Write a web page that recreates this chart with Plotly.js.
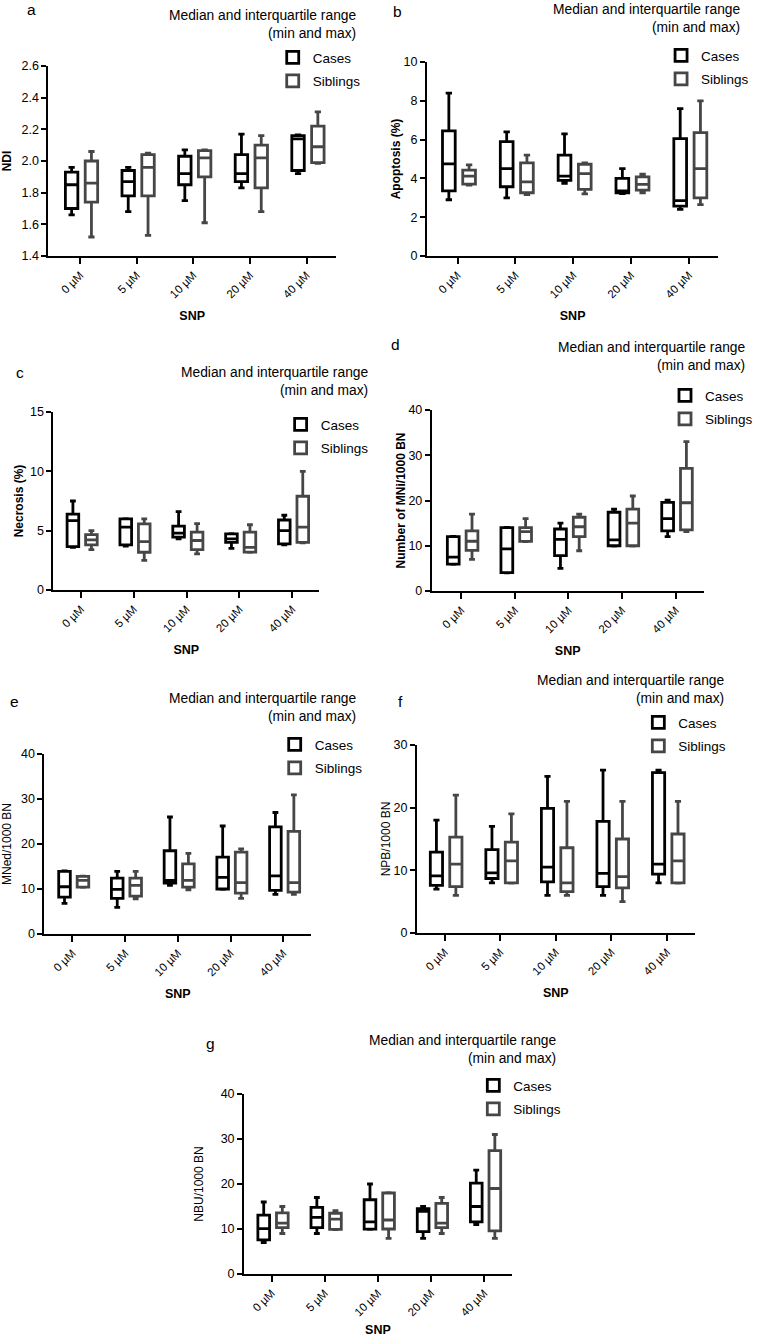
<!DOCTYPE html>
<html>
<head>
<meta charset="utf-8">
<script src="https://cdn.plot.ly/plotly-3.0.1.min.js"></script>
<style>html,body{margin:0;padding:0;background:#fff;}#chart{width:758px;height:1337px;}</style>
</head>
<body>
<div id="chart"></div>
<script>
// Categories
const doses = ['0 µM', '5 µM', '10 µM', '20 µM', '40 µM'];
const groupNames = ['Cases', 'Siblings'];

// Each series: per dose [min, Q1, median, Q3, max]
// a: NDI
const ndiCases    = [[1.66,1.70,1.85,1.93,1.96],[1.68,1.78,1.87,1.94,1.96],[1.75,1.85,1.92,2.03,2.07],[1.83,1.87,1.92,2.04,2.17],[1.92,1.94,2.14,2.16,2.165]];
const ndiSiblings = [[1.52,1.74,1.86,2.00,2.06],[1.53,1.78,1.96,2.04,2.05],[1.61,1.90,2.02,2.065,2.07],[1.68,1.83,2.02,2.10,2.16],[1.985,1.99,2.09,2.22,2.31]];
// b: Apoptosis (%)
const apoCases    = [[2.9,3.36,4.75,6.45,8.4],[3.0,3.57,4.5,5.9,6.4],[3.75,3.9,4.12,5.2,6.3],[3.22,3.25,3.35,4.0,4.5],[2.4,2.57,2.85,6.05,7.6]];
const apoSiblings = [[3.65,3.7,4.12,4.43,4.7],[3.17,3.26,3.82,4.8,5.2],[3.2,3.43,4.25,4.73,4.8],[3.26,3.4,3.69,4.08,4.22],[2.65,3.0,4.5,6.36,8.0]];
// c: Necrosis (%)
const necCases    = [[3.6,3.66,5.85,6.4,7.5],[3.69,3.8,5.3,6.0,6.02],[4.31,4.45,4.8,5.38,6.6],[3.5,4.02,4.31,4.73,4.75],[3.8,3.88,5.0,5.9,6.3]];
const necSiblings = [[3.4,3.8,4.22,4.67,5.0],[2.5,3.18,4.08,5.57,6.0],[3.05,3.41,4.17,4.87,5.6],[3.18,3.2,3.6,4.87,5.5],[3.97,4.02,5.3,7.9,10.0]];
// d: Number of MNi/1000 BN
const mniCases    = [[5.9,5.95,7.5,12.0,12.05],[4.0,4.05,9.3,14.0,14.05],[5.0,7.8,11.4,13.7,15.0],[9.9,10.0,11.3,17.4,18.1],[12.0,13.3,16.0,19.6,20.1]];
const mniSiblings = [[7.0,9.0,11.0,13.3,17.0],[10.9,10.95,13.1,14.0,16.0],[8.9,12.0,14.2,16.3,17.0],[9.9,10.0,15.0,18.1,21.0],[13.1,13.5,19.5,27.1,33.0]];
// e: MNed/1000 BN
const mnedCases    = [[6.8,8.2,10.5,13.9,14.0],[5.9,7.9,9.9,12.4,13.9],[10.8,11.3,11.9,18.5,26.0],[9.9,10.0,12.6,17.1,24.0],[8.8,9.7,12.9,23.8,27.0]];
const mnedSiblings = [[10.35,10.4,11.9,12.8,12.85],[7.8,8.4,10.8,12.4,13.9],[9.8,10.4,11.9,15.6,17.9],[7.9,9.1,11.4,18.2,18.9],[8.8,9.3,11.4,22.8,30.9]];
// f: NPB/1000 BN
const npbCases    = [[7.0,7.6,9.1,12.9,18.0],[8.0,8.7,9.6,13.3,17.0],[6.0,8.15,10.5,19.9,25.0],[6.0,7.4,9.5,17.8,26.0],[8.0,9.4,11.0,25.6,26.0]];
const npbSiblings = [[6.0,7.4,11.0,15.3,22.0],[7.95,8.0,11.5,14.5,19.0],[6.0,6.6,8.0,13.6,21.0],[5.0,7.2,9.0,15.0,21.0],[7.95,8.0,11.5,15.8,21.0]];
// g: NBU/1000 BN
const nbuCases    = [[7.0,7.6,10.1,13.1,16.0],[9.0,10.3,12.6,14.8,17.0],[9.9,9.95,11.6,16.5,20.0],[7.9,9.4,13.9,14.5,15.0],[11.0,11.6,15.0,20.2,23.1]];
const nbuSiblings = [[9.0,10.3,11.3,13.6,15.0],[9.85,9.9,12.2,13.5,14.1],[7.9,10.0,12.0,18.0,18.1],[9.0,10.3,11.3,15.7,17.0],[7.9,9.6,19.0,27.4,31.0]];

// Axis titles / tick settings per panel
const yTitles = ['<b>NDI</b>', '<b>Apoptosis (%)</b>', '<b>Necrosis (%)</b>', '<b>Number of MNi/1000 BN</b>', 'MNed/1000 BN', 'NPB/1000 BN', 'NBU/1000 BN'];
const yRanges = [[1.4, 2.6], [0, 10], [0, 15], [0, 40], [0, 40], [0, 30], [0, 40]];
const yDticks = [0.2, 2, 5, 10, 10, 10, 10];
const panelLetters = ['a', 'b', 'c', 'd', 'e', 'f', 'g'];
const panelTitle = 'Median and interquartile range<br>(min and max)';

const panels = [
  [ndiCases, ndiSiblings], [apoCases, apoSiblings], [necCases, necSiblings],
  [mniCases, mniSiblings], [mnedCases, mnedSiblings], [npbCases, npbSiblings], [nbuCases, nbuSiblings]
];

// ---- layout geometry (pixels) ----
const W = 758, H = 1337;
const FONT = 'Liberation Sans, Arial, Helvetica, sans-serif';
const geo = [
  {box:[49,340,66,256],    xr:[-0.56,4.52], t:[362,25],    L:[32,10],    lg:[296,57],   so:17},
  {box:[432,727,62,256],   xr:[-0.53,4.51], t:[751,18.5],  L:[402,12],   lg:[689,55],   so:0},
  {box:[54,323,412,590],   xr:[-0.52,4.51], t:[374,381],   L:[20,373],   lg:[304,424],  so:4},
  {box:[437,712,410,591],  xr:[-0.55,4.52], t:[756,356],   L:[400,345],  lg:[693,395],  so:0},
  {box:[45,315,754,934],   xr:[-0.53,4.53], t:[362,707.5], L:[15,702],   lg:[298,744],  so:10},
  {box:[422,703,745,933],  xr:[-0.50,4.50], t:[735,689],   L:[405,702],  lg:[666,722],  so:0},
  {box:[247,518,1094,1274],xr:[-0.52,4.52], t:[565,1049],  L:[213,1043], lg:[499,1085], so:14}
];
// box placement relative to each dose tick (in category units)
const groupOffset = [-0.15, 0.2];
const boxWidth = 0.22;

const px = x => x / W;
const py = y => 1 - y / H;

const colors = ['#000000', '#464646'];
const traces = [];
const layout = {
  width: W, height: H,
  margin: {l: 0, r: 0, t: 0, b: 0},
  paper_bgcolor: '#ffffff', plot_bgcolor: '#ffffff',
  font: {family: FONT, color: '#000'},
  boxmode: 'overlay',
  annotations: [],
  showlegend: true
};

const doseIdx = doses.map((d, j) => j);

panels.forEach((pair, i) => {
  const n = i + 1;
  const sx = n === 1 ? '' : String(n);
  const g = geo[i];
  const legId = n === 1 ? 'legend' : 'legend' + n;
  pair.forEach((stats, k) => {
    traces.push({
      type: 'box',
      name: groupNames[k],
      legendgroup: groupNames[k] + n,
      x: doseIdx.map(j => j + groupOffset[k]),
      width: boxWidth,
      lowerfence: stats.map(s => s[0]),
      q1: stats.map(s => s[1]),
      median: stats.map(s => s[2]),
      q3: stats.map(s => s[3]),
      upperfence: stats.map(s => s[4]),
      boxpoints: false,
      whiskerwidth: 0.5,
      line: {color: colors[k], width: 2.8},
      fillcolor: '#ffffff',
      xaxis: 'x' + sx, yaxis: 'y' + sx,
      legend: legId,
      showlegend: true
    });
  });
  const [l, r, t, b] = g.box;
  layout['xaxis' + sx] = {
    domain: [px(l), px(r)], anchor: 'y' + sx,
    range: g.xr, tickmode: 'array', tickvals: doseIdx, ticktext: doses,
    showline: true, linecolor: '#000', linewidth: 2,
    ticks: 'outside', ticklen: 6, tickwidth: 2, tickcolor: '#000',
    tickangle: -45, tickfont: {family: FONT, size: 11.5, color: '#000'},
    showgrid: false, zeroline: false, fixedrange: true,
    title: {text: '<b>SNP</b>', font: {family: FONT, size: 12.5, color: '#000'}, standoff: 12}
  };
  layout['yaxis' + sx] = {
    domain: [py(b), py(t)], anchor: 'x' + sx,
    range: yRanges[i], dtick: yDticks[i], tick0: yRanges[i][0],
    tickformat: i === 0 ? '.1f' : 'd',
    showline: true, linecolor: '#000', linewidth: 2,
    ticks: 'outside', ticklen: 5, tickwidth: 2, tickcolor: '#000',
    tickfont: {family: FONT, size: 12.5, color: '#000'},
    showgrid: false, zeroline: false, fixedrange: true,
    title: {text: yTitles[i], font: {family: FONT, size: 12, color: '#000'}, standoff: g.so}
  };
  layout[legId] = {
    x: px(g.lg[0] - 20), y: py(g.lg[1] - 15), xanchor: 'left', yanchor: 'top',
    bgcolor: 'rgba(0,0,0,0)', borderwidth: 0,
    font: {family: FONT, size: 13.5, color: '#000'},
    tracegroupgap: 3
  };
  layout.annotations.push({
    xref: 'paper', yref: 'paper', x: px(g.t[0]), y: py(g.t[1]),
    xanchor: 'right', yanchor: 'middle', align: 'right', showarrow: false,
    text: panelTitle, font: {family: FONT, size: 13.8, color: '#000'}
  });
  layout.annotations.push({
    xref: 'paper', yref: 'paper', x: px(g.L[0]), y: py(g.L[1]),
    xanchor: 'center', yanchor: 'middle', showarrow: false,
    text: panelLetters[i], font: {family: FONT, size: 15.5, color: '#000'}
  });
});

Plotly.newPlot('chart', traces, layout, {staticPlot: true, displayModeBar: false});
</script>
</body>
</html>
